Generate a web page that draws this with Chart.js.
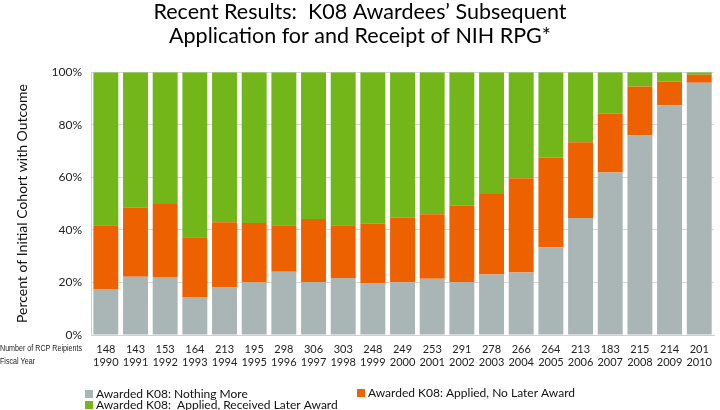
<!DOCTYPE html>
<html>
<head>
<meta charset="utf-8">
<script src="https://cdn.jsdelivr.net/npm/chart.js@4.4.1/dist/chart.umd.min.js"></script>
<style>
  html, body { margin: 0; padding: 0; background: #ffffff; }
  #wrap { width: 720px; height: 410px; position: relative; }
</style>
</head>
<body>
<div id="wrap"><canvas id="c" width="720" height="410"></canvas></div>
<script>
// ---- Data ----
const fiscalYears = ['1990','1991','1992','1993','1994','1995','1996','1997','1998','1999','2000','2001','2002','2003','2004','2005','2006','2007','2008','2009','2010'];
const recipientCounts = ['148','143','153','164','213','195','298','306','303','248','249','253','291','278','266','264','213','183','215','214','201'];
const nothingMore = [17.5, 22.2, 22.1, 14.5, 18.1, 20.0, 24.1, 20.2, 21.7, 19.6, 20.1, 21.4, 20.2, 23.0, 23.8, 33.4, 44.5, 61.8, 75.9, 87.4, 96.0];
const appliedNoLater = [24.3, 26.2, 27.7, 22.7, 24.8, 22.6, 17.7, 23.9, 20.1, 22.7, 24.5, 24.5, 29.0, 30.6, 35.8, 34.1, 28.8, 22.4, 18.6, 9.0, 3.0];
const appliedReceived = [58.2, 51.6, 50.2, 62.8, 57.1, 57.4, 58.2, 55.9, 58.2, 57.7, 55.4, 54.1, 50.8, 46.4, 40.4, 32.5, 26.7, 15.8, 5.5, 3.6, 1.0];
const yTicks = [0, 20, 40, 60, 80, 100];
const seriesNames = ['Awarded K08: Nothing More', 'Awarded K08: Applied, No Later Award', 'Awarded K08:  Applied, Received Later Award'];
const rowLabels = ['Number of RCP Reipients', 'Fiscal Year'];

const COLORS = ['#aab5b5', '#ee6100', '#72b61a'];
const FONT = 'Lato, "Open Sans", sans-serif';

const labels = fiscalYears.map((y, i) => [recipientCounts[i], y]);

// custom legend + row labels drawn on canvas
const extrasPlugin = {
  id: 'extras',
  afterDraw(chart) {
    const ctx = chart.ctx;
    ctx.save();
    // row labels at left of x axis
    ctx.font = '9px "Liberation Sans", sans-serif';
    ctx.fillStyle = '#222';
    ctx.textBaseline = 'middle';
    ctx.textAlign = 'left';
    ctx.fillText(rowLabels[0], 0, 349, 82);
    ctx.fillText(rowLabels[1], 0, 362, 82 * ctx.measureText(rowLabels[1]).width / ctx.measureText(rowLabels[0]).width);
    // legend
    const items = [
      {x: 85, y: 394, i: 0},
      {x: 357, y: 393, i: 1},
      {x: 85, y: 405, i: 2}
    ];
    ctx.font = '12px ' + FONT;
    items.forEach(it => {
      const ds = chart.data.datasets[it.i];
      ctx.fillStyle = ds.backgroundColor;
      ctx.fillRect(it.x, it.y - 4, 8, 8);
      ctx.fillStyle = '#111';
      ctx.fillText(ds.label, it.x + 11, it.y);
    });
    ctx.restore();
  }
};

new Chart(document.getElementById('c'), {
  type: 'bar',
  data: {
    labels: labels,
    datasets: [
      { label: seriesNames[0], data: nothingMore, backgroundColor: COLORS[0] },
      { label: seriesNames[1], data: appliedNoLater, backgroundColor: COLORS[1] },
      { label: seriesNames[2], data: appliedReceived, backgroundColor: COLORS[2] }
    ]
  },
  options: {
    responsive: false,
    animation: false,
    devicePixelRatio: 1,
    layout: { padding: { left: 0, right: 0, top: 0, bottom: 0 } },
    datasets: { bar: { categoryPercentage: 0.84, barPercentage: 1.0, borderWidth: 0 } },
    plugins: {
      legend: { display: false },
      tooltip: { enabled: false },
      title: {
        display: true,
        text: ['Recent Results:  K08 Awardees\u2019 Subsequent', 'Application for and Receipt of NIH RPG*'],
        color: '#000',
        font: { family: FONT, size: 21.5, weight: 'normal', lineHeight: 1.12 },
        padding: { top: 0, bottom: 24 }
      }
    },
    scales: {
      x: {
        stacked: true,
        grid: { display: false, drawTicks: false },
        border: { display: true, color: '#d0d0d0' },
        ticks: {
          color: '#222',
          font: { family: FONT, size: 11, lineHeight: 1.18 },
          padding: 8,
          maxRotation: 0,
          autoSkip: false
        },
        afterFit(scale) { scale.height = 75; }
      },
      y: {
        stacked: true,
        min: 0,
        max: 100,
        afterBuildTicks(scale) { scale.ticks = yTicks.map(v => ({ value: v })); },
        grid: { color: '#d8d8d8', drawTicks: false },
        border: { display: true, color: '#d0d0d0' },
        ticks: {
          color: '#222',
          font: { family: FONT, size: 12 },
          padding: 9,
          callback: v => v + '%'
        },
        title: {
          display: true,
          text: 'Percent of Initial Cohort with Outcome',
          color: '#111',
          font: { family: FONT, size: 14 },
          padding: { top: 14, bottom: 0 }
        },
        afterFit(scale) { scale.width = 91; }
      }
    }
  },
  plugins: [extrasPlugin]
});
</script>
</body>
</html>
